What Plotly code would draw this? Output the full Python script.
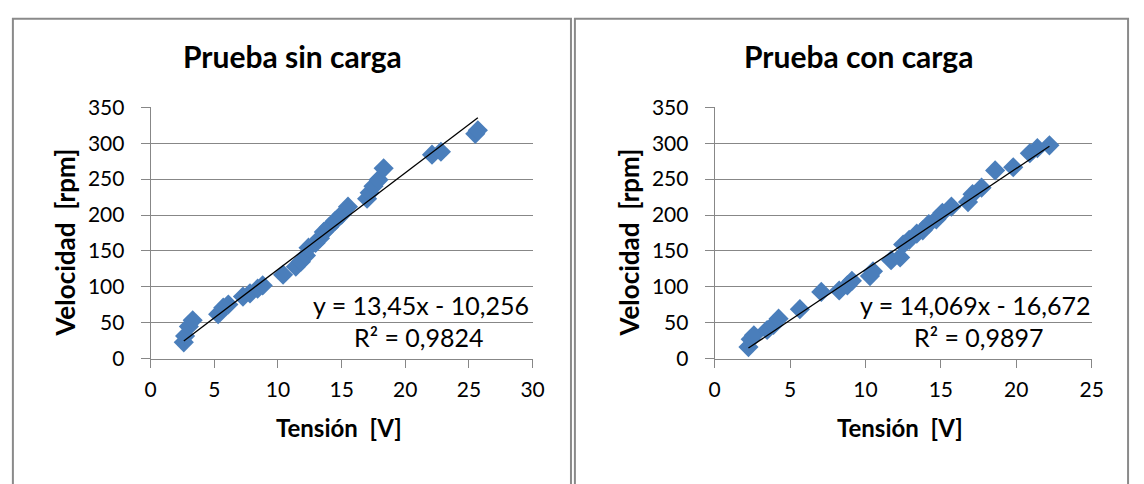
import plotly.graph_objects as go

# Prueba sin carga: tensión [V] y velocidad [rpm]
v_sin = [2.6, 2.7, 3.0, 3.3, 5.3, 5.7, 6.1, 7.25, 7.8, 8.4, 8.8, 10.4, 11.4, 11.8,
         12.2, 12.4, 12.95, 13.3, 13.6, 14.0, 14.5, 15.0, 15.5, 17.0, 17.2, 17.5,
         17.9, 18.3, 22.1, 22.8, 25.5, 25.7]
rpm_sin = [22.8, 31.6, 45, 53.6, 62, 71, 75.5, 86.5, 91, 97.5, 102, 117, 128, 135,
           143.5, 154.5, 161, 167.7, 176.5, 183, 192, 200.6, 211.6, 222.6, 231, 240,
           249, 265, 284, 288, 313, 318]

# Prueba con carga
v_con = [2.24, 2.39, 2.6, 3.48, 3.9, 4.24, 5.65, 7.07, 8.26, 8.8, 9.1, 10.3, 10.5,
         11.7, 12.3, 12.5, 12.9, 13.4, 13.8, 14.2, 14.7, 15.1, 15.7, 16.8, 17.1,
         17.7, 18.6, 19.8, 20.9, 21.4, 22.2]
rpm_con = [16.2, 27, 32.5, 40, 47, 55.8, 69, 93, 95, 102, 108.4, 115, 121.6,
           137, 141, 159, 165.5, 174, 178.7, 187.5, 194, 203, 211.6, 218, 229,
           238, 262, 266.5, 286, 293, 297]

# Rectas de ajuste lineal (pendiente, ordenada) y sus textos
fit_sin = (13.45, -10.256)
fit_con = (14.069, -16.672)
eq_sin = ("y = 13,45x - 10,256", "R² = 0,9824")
eq_con = ("y = 14,069x - 16,672", "R² = 0,9897")

titles = ["Prueba sin carga", "Prueba con carga"]
xlabel = "Tensión  [V]"
ylabel = "Velocidad  [rpm]"
y_ticks = [0, 50, 100, 150, 200, 250, 300, 350]
x_ticks_sin = [0, 5, 10, 15, 20, 25, 30]
x_ticks_con = [0, 5, 10, 15, 20, 25]

# Lienzo de referencia (px); la figura ocupa toda la ventana
W, H = 1144, 484
BLUE = "#4A7EBB"
GRID = "#878787"
FONT = "Lato"


def px(x):
    return x / W


def py(y):
    return 1 - y / H


fig = go.Figure()

panels = [
    dict(x=v_sin, y=rpm_sin, fit=fit_sin, eq=eq_sin, xa="x", ya="y",
         dom=(147, 535), xr=30, xt=x_ticks_sin, box=(7, 574), ttl=291,
         ylab=59, eq1=533, eq2=488),
    dict(x=v_con, y=rpm_con, fit=fit_con, eq=eq_con, xa="x2", ya="y2",
         dom=(720, 1103), xr=25, xt=x_ticks_con, box=(578, 1140), ttl=866,
         ylab=632, eq1=1103, eq2=1057),
]

for i, p in enumerate(panels):
    fig.add_trace(go.Scatter(
        x=p["x"], y=p["y"], mode="markers", xaxis=p["xa"], yaxis=p["ya"],
        marker=dict(symbol="diamond", size=15.5, color=BLUE,
                    line=dict(width=0)),
        showlegend=False, hoverinfo="skip"))
    m, b = p["fit"]
    x0, x1 = min(p["x"]), max(p["x"])
    fig.add_trace(go.Scatter(
        x=[x0, x1], y=[m * x0 + b, m * x1 + b], mode="lines",
        xaxis=p["xa"], yaxis=p["ya"], line=dict(color="black", width=1.3),
        showlegend=False, hoverinfo="skip"))

    suffix = "" if i == 0 else str(i + 1)
    axis_common = dict(
        showline=True, linecolor=GRID, linewidth=1,
        ticks="outside", tickcolor=GRID, tickwidth=1,
        tickfont=dict(family=FONT, size=21, color="black"),
        zeroline=False, fixedrange=True,
    )
    fig.update_layout(**{
        "xaxis" + suffix: dict(
            domain=[px(p["dom"][0]), px(p["dom"][1])], range=[0, p["xr"]],
            tickvals=p["xt"], showgrid=False, anchor="y" + suffix,
            ticklen=8, ticklabelstandoff=4, **axis_common),
        "yaxis" + suffix: dict(
            domain=[py(363.5), py(98.3)], range=[0, 350], tickvals=y_ticks,
            showgrid=True, gridcolor=GRID, gridwidth=1,
            anchor="x" + suffix, ticklen=9, ticklabelstandoff=12,
            **axis_common),
    })

    # marco del gráfico
    fig.add_shape(type="rect", xref="paper", yref="paper",
                  x0=px(p["box"][0]), x1=px(p["box"][1]), y0=py(520), y1=py(5),
                  line=dict(color="#8A8A8A", width=2), fillcolor="rgba(0,0,0,0)")

    fig.add_annotation(text="<b>%s</b>" % titles[i], xref="paper", yref="paper",
                       x=px(p["ttl"]), y=py(44), xanchor="center",
                       yanchor="middle", showarrow=False,
                       font=dict(family=FONT, size=30, color="black"))
    fig.add_annotation(text="<b>%s</b>" % xlabel, xref="paper", yref="paper",
                       x=px((p["dom"][0] + p["dom"][1]) / 2 - 3), y=py(436),
                       xanchor="center", yanchor="middle", showarrow=False,
                       font=dict(family=FONT, size=24, color="black"))
    fig.add_annotation(text="<b>%s</b>" % ylabel, xref="paper", yref="paper",
                       x=px(p["ylab"]), y=py(241), xanchor="center",
                       yanchor="middle", showarrow=False, textangle=-90,
                       font=dict(family=FONT, size=26, color="black"))
    fig.add_annotation(text=p["eq"][0], xref="paper", yref="paper",
                       x=px(p["eq1"]), y=py(307), xanchor="right",
                       yanchor="middle", showarrow=False,
                       font=dict(family=FONT, size=25, color="black"))
    fig.add_annotation(text=p["eq"][1], xref="paper", yref="paper",
                       x=px(p["eq2"]), y=py(340.5), xanchor="right",
                       yanchor="middle", showarrow=False,
                       font=dict(family=FONT, size=25, color="black"))

fig.update_layout(
    autosize=True, margin=dict(l=0, r=0, t=0, b=0),
    paper_bgcolor="white", plot_bgcolor="white",
)

fig.write_html("out.html", default_width="100vw", default_height="100vh",
               post_script="document.body.style.margin='0';"
                           "document.body.style.overflow='hidden';")
